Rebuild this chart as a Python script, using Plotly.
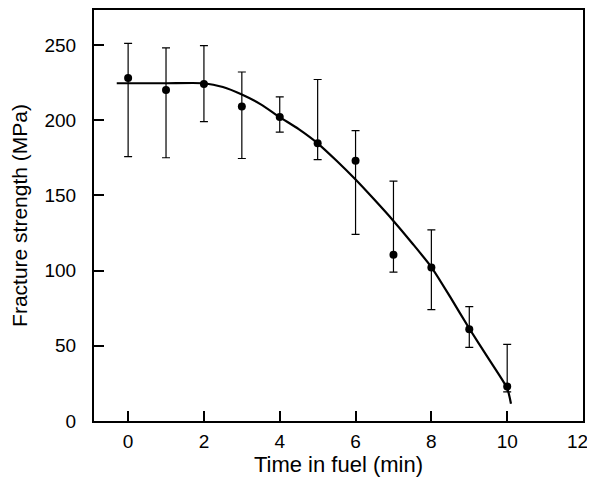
import plotly.graph_objects as go

# Measured data
time_min = [0, 1, 2, 3, 4, 5, 6, 7, 8, 9, 10]
strength = [228, 220, 224, 209, 202, 184.6, 173, 110.5, 102, 61, 23]
err_top = [251, 248, 249.5, 232, 215.5, 227, 193, 159.5, 127, 76, 51]
err_bottom = [175.7, 175, 199, 174.5, 192, 173.7, 124, 99, 74, 49, 19.4]

# Fitted curve
fit_t = [-0.3, 1.0, 2.0, 2.5, 3.0, 3.5, 4.0, 4.5, 5.0, 5.5, 6.0, 6.5, 7.0, 7.5, 8.0, 8.5, 9.0, 9.5, 10.0, 10.1]
fit_v = [224.5, 224.5, 224.5, 222, 217, 210.5, 202, 194, 184.6, 173, 160.5, 147, 133, 118, 102.3, 82.3, 61.5, 41.8, 21.7, 11.5]

x_ticks = [0, 2, 4, 6, 8, 10, 12]
y_ticks = [0, 50, 100, 150, 200, 250]

err_plus = [t - v for t, v in zip(err_top, strength)]
err_minus = [v - b for v, b in zip(strength, err_bottom)]

fig = go.Figure()
fig.add_trace(go.Scatter(
    x=fit_t, y=fit_v, mode="lines",
    line=dict(color="black", width=2.2, shape="spline", smoothing=0.6),
    hoverinfo="skip", showlegend=False,
))
fig.add_trace(go.Scatter(
    x=time_min, y=strength, mode="markers",
    marker=dict(color="black", size=8),
    error_y=dict(type="data", symmetric=False, array=err_plus, arrayminus=err_minus,
                 color="black", thickness=1.2, width=4),
    showlegend=False,
))

# last x tick label sits at the right edge: draw it as an annotation nudged inward
x_ticktext = [str(v) for v in x_ticks[:-1]] + [""]
fig.add_annotation(
    x=x_ticks[-1], y=0, xref="x", yref="y", text=str(x_ticks[-1]),
    showarrow=False, xanchor="center", yanchor="middle", xshift=-6, yshift=-20,
    font=dict(size=19, color="black"),
)

font_family = "Liberation Sans, Arial, sans-serif"
fig.update_layout(
    width=587, height=474,
    margin=dict(l=86, r=12, t=2, b=61),
    paper_bgcolor="white", plot_bgcolor="white",
    font=dict(family=font_family, size=19, color="black"),
    xaxis=dict(
        range=[-0.9, 12], tickvals=x_ticks, ticktext=x_ticktext,
        ticks="inside", ticklen=10, tickwidth=1.5, tickcolor="black",
        showline=True, linecolor="black", linewidth=2, mirror=True,
        showgrid=False, zeroline=False, automargin=False,
        ticklabelstandoff=2, tickfont=dict(size=19),
        title=dict(text="Time in fuel (min)", standoff=6, font=dict(size=22)),
    ),
    yaxis=dict(
        range=[0, 273.2], tickvals=y_ticks, ticktext=[str(v) for v in y_ticks],
        ticks="inside", ticklen=10, tickwidth=1.5, tickcolor="black",
        showline=True, linecolor="black", linewidth=2, mirror=True,
        showgrid=False, zeroline=False, automargin=False,
        ticklabelstandoff=12, tickfont=dict(size=19),
        title=dict(text="Fracture strength (MPa)", standoff=12, font=dict(size=21)),
    ),
)

fig.write_html("out.html")
